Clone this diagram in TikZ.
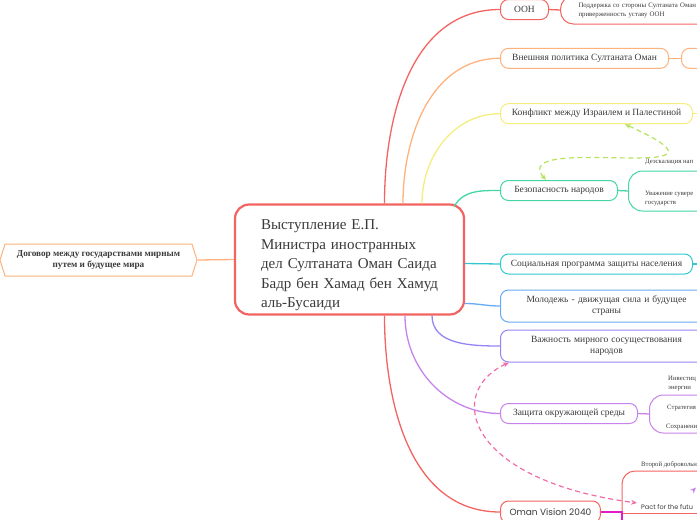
\documentclass[tikz,border=0pt]{standalone}
\usepackage{fontspec}
\setmainfont{Liberation Serif}
\newfontfamily\visionfont{Poppins}
\usetikzlibrary{shapes.symbols,arrows.meta}

\definecolor{mmred}{HTML}{F26461}
\definecolor{mmorange}{HTML}{FFB27D}
\definecolor{mmyellow}{HTML}{F5EE7E}
\definecolor{mmgreen}{HTML}{45D6A4}
\definecolor{mmcyan}{HTML}{33C6D2}
\definecolor{mmblue}{HTML}{66ABF5}
\definecolor{mmviolet}{HTML}{9486F2}
\definecolor{mmpurple}{HTML}{C683EA}
\definecolor{mmpink}{HTML}{F06CA8}
\definecolor{mmlime}{HTML}{B6E25E}
\definecolor{mmmagenta}{HTML}{E01CC8}
\definecolor{mmtext}{HTML}{3A3A3A}

\begin{document}
\begin{tikzpicture}[x=1pt, y=-1pt, >={Stealth[length=6pt,width=5pt]},
    font=\fontsize{9.5}{11}\selectfont, text=mmtext,
    topic/.style={draw=#1, line width=1pt, rounded corners=8pt, fill=white, anchor=west,
        minimum height=20pt, inner xsep=9pt, inner ysep=2pt},
    branch/.style={#1, line width=1.3pt},
    group/.style={draw=#1, line width=1pt, rounded corners=13pt, anchor=west},
    leaf/.style={anchor=west, inner sep=0pt, align=left, font=\fontsize{6.7}{9}\selectfont},
    link/.style={#1, <->, line width=1.2pt, dash pattern=on 5pt off 3.5pt}]

        \useasboundingbox (0,0) rectangle (697,520);
        \clip (0,0) rectangle (697,520);

        % -----------------------
        % 1. Central topic
        % -----------------------
        \node[draw=mmred, line width=2.2pt, rounded corners=14pt, fill=white,
            text width=177pt, minimum width=229pt, minimum height=105pt,
            inner xsep=26pt, align=left, font=\fontsize{15}{19.5}\selectfont]
            (speech) at (349.5,259.5) {\rule{0pt}{22pt}Выступление Е.П.\\ Министра иностранных\\
            дел Султаната Оман Саида\\ Бадр бен Хамад бен Хамуд\\ аль-Бусаиди};

        % -----------------------
        % 2. Left topic
        % -----------------------
        \node[signal, signal to=west and east, signal pointer angle=145,
            draw=mmorange, line width=1pt, fill=white,
            minimum width=197pt, minimum height=32pt, align=center,
            font=\fontsize{9.2}{11.7}\selectfont\bfseries]
            (treaty) at (98.5,260) {Договор между государствами мирным\\ путем и будущее мира};

        % -----------------------
        % 3. Right topics
        % -----------------------
        \node[topic=mmred, minimum width=48pt] (un) at (500,9.5) {ООН};
        \node[topic=mmorange, minimum width=168pt] (foreign) at (500,58.3) {Внешняя политика Султаната Оман};
        \node[topic=mmyellow, minimum width=192pt] (conflict) at (500,113.7) {Конфликт между Израилем и Палестиной};
        \node[topic=mmgreen, minimum width=117pt] (security) at (500,190.5) {Безопасность народов};
        \node[topic=mmcyan, minimum width=192pt] (social) at (500,264) {Социальная программа защиты населения};
        \node[topic=mmblue, minimum width=212pt, minimum height=32pt, text width=190pt, align=center]
            (youth) at (500,306) {Молодежь - движущая сила и будущее\\ страны};
        \node[topic=mmviolet, minimum width=212pt, minimum height=32pt, text width=190pt, align=center]
            (peace) at (500,346) {Важность мирного сосуществования\\ народов};
        \node[topic=mmpurple, minimum width=137pt] (environment) at (500,413.5) {Защита окружающей среды};
        \node[topic=mmred, minimum width=97pt, minimum height=22pt, font=\visionfont\fontsize{9}{11}\selectfont]
            (vision) at (500,512) {Oman Vision 2040};

        % -----------------------
        % 4. Subtopics (leaves)
        % -----------------------
        \node[group=mmred, minimum width=170pt, minimum height=28pt, text width=150pt,
            inner xsep=18pt, align=left, font=\fontsize{6.8}{9}\selectfont]
            (unleaf) at (560,10) {Поддержка со стороны Султаната Оман\\ приверженность уставу ООН};
        \node[group=mmorange, rounded corners=8pt, minimum width=40pt, minimum height=20pt] (foreignleaf) at (681,58.3) {};
        \coordinate (conflictleaf) at (710,113.7);
        \coordinate (socialleaf) at (710,264);

        \node[group=mmgreen, rounded corners=14pt, minimum width=90pt, minimum height=40pt] (securityleaf) at (628,191) {};
        \node[leaf] (deescalation) at (645,162) {Деэскалация нап};
        \node[leaf] (sovereignty) at (645,198.5) {Уважение сувере\\ государств};

        \node[group=mmpurple, rounded corners=14pt, minimum width=70pt, minimum height=38pt] (envleaf) at (649,414) {};
        \node[leaf] (investment) at (668,384) {Инвестиц\\ энергии};
        \node[leaf] (strategy) at (667,408) {Стратегия};
        \node[leaf] (preserve) at (666,427) {Сохранени};

        \draw[mmred, line width=1pt, rounded corners=13pt] (720,471) -- (622,471) -- (622,530);
        \draw[mmred, line width=1pt] (622,513) -- (720,513);
        \node[leaf] (volunteer) at (641,465) {Второй добровольн};
        \node[leaf, font=\visionfont\fontsize{6.5}{8}\selectfont] (pactfuture) at (641,507) {Pact for the futu};
        \coordinate (visionjoin) at (622,512);
        \coordinate (visionend) at (622,530);

        % -----------------------
        % Branches
        % -----------------------
        \draw[branch=mmorange] (treaty.east) -- (speech.west);

        \draw[branch=mmred] ([xshift=35pt]speech.north) to[out=90, in=180] (un.west);
        \draw[branch=mmorange] ([xshift=53.5pt]speech.north) to[out=90, in=180] (foreign.west);
        \draw[branch=mmyellow] ([xshift=72.5pt]speech.north) to[out=90, in=180] (conflict.west);
        \draw[branch=mmgreen] ([xshift=-11pt,yshift=-3pt]speech.north east) to[out=60, in=180] (security.west);
        \draw[branch=mmcyan] ([yshift=-4pt]speech.east) -- (social.west);
        \draw[branch=mmblue] ([yshift=-44pt]speech.east) to[out=0, in=180] (youth.west);
        \draw[branch=mmviolet] ([xshift=82.5pt]speech.south) to[out=-90, in=180] (peace.west);
        \draw[branch=mmpurple] ([xshift=55.5pt]speech.south) to[out=-90, in=180] (environment.west);
        \draw[branch=mmred] ([xshift=35pt]speech.south) to[out=-90, in=180] (vision.west);

        \draw[branch=mmred] (un.east) -- (unleaf.west);
        \draw[branch=mmorange] (foreign.east) -- (foreignleaf.west);
        \draw[branch=mmyellow] (conflict.east) -- (conflictleaf);
        \draw[branch=mmcyan] (social.east) -- (socialleaf);
        \draw[branch=mmgreen] (security.east) -- (securityleaf.west);
        \draw[branch=mmpurple] (environment.east) -- (envleaf.west);
        \draw[branch=mmmagenta] (vision.east) -- (visionjoin) -- (visionend);

        % -----------------------
        % Relations (dashed)
        % -----------------------
        \draw[link=mmlime] ([xshift=46pt]security.north west)
            .. controls (505,132) and (765,188) .. ([xshift=125pt]conflict.south west);
        \draw[link=mmpink] ([xshift=9pt]peace.south west)
            .. controls (445,392) and (465,480) .. ([xshift=-4pt,yshift=4pt]pactfuture.west);
        \coordinate (offtail) at (693,490.5);
        \coordinate (offtip) at (696,487.5);
        \draw[->, mmpurple, line width=1pt] (offtail) -- (offtip);

\end{tikzpicture}
\end{document}
